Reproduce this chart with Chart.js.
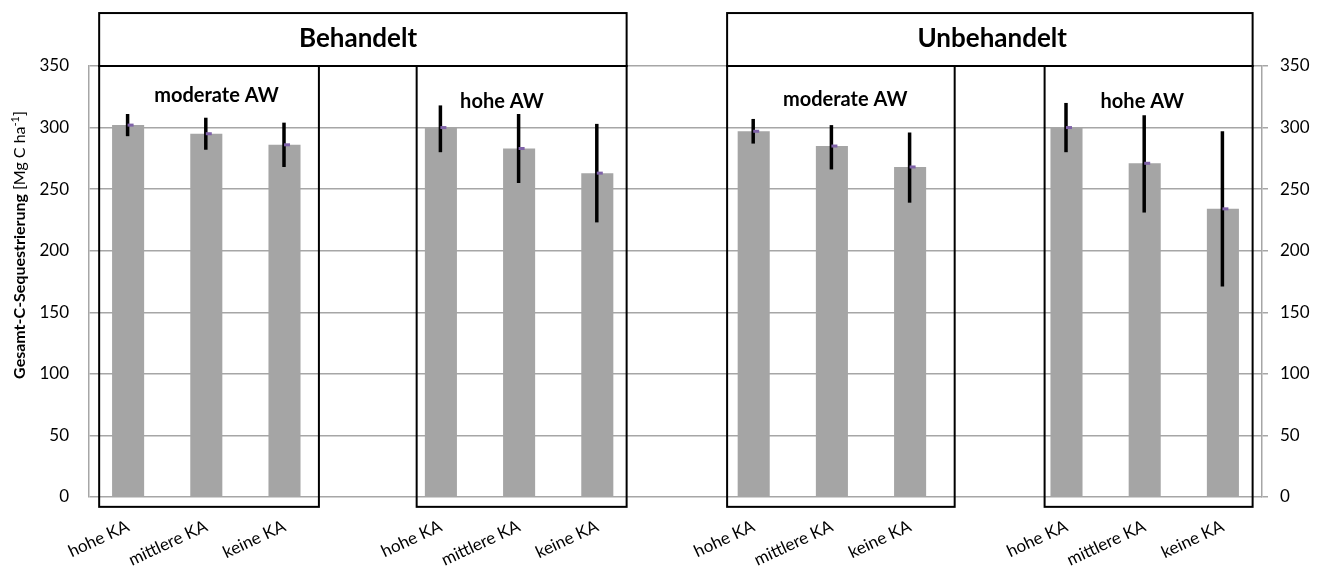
<!DOCTYPE html>
<html><head><meta charset="utf-8">
<script src="https://cdn.jsdelivr.net/npm/chart.js@4.4.0/dist/chart.umd.min.js"></script>
<style>html,body{margin:0;padding:0;background:#fff}#wrap{width:1321px;height:566px}</style>
</head><body><div id="wrap"><canvas id="c" width="1321" height="566"></canvas></div>
<script>
// ---- data ----
const categories = ['hohe KA','mittlere KA','keine KA','',
                    'hohe KA','mittlere KA','keine KA','',
                    'hohe KA','mittlere KA','keine KA','',
                    'hohe KA','mittlere KA','keine KA'];
const means = [302,295,286,null, 300,283,263,null, 297,285,268,null, 300,271,234];
const upper = [311,308,304,null, 318,311,303,null, 307,302,296,null, 320,310,297];
const lower = [293,282,268,null, 280,255,223,null, 287,266,239,null, 280,231,171];
const yTicks = [0,50,100,150,200,250,300,350];
const headerLabels = ['Behandelt','Unbehandelt'];
const groupLabels = ['moderate AW','hohe AW','moderate AW','hohe AW'];
const yTitleBold = 'Gesamt-C-Sequestrierung ';
const yTitleUnit = '[Mg C ha';
const yTitleSup = '-1';
const yTitleEnd = ']';

// ---- annotation layout (category-index / value units) ----
const headerSpans = [[-0.37,6.375],[7.66,14.38]];
const headerTextPos = [[2.94,372],[11.05,372]];
const headerTopValue = 393;
const groupSpans = [[-0.37,2.44],[3.69,6.375],[7.66,10.57],[11.72,14.38]];
const groupTextPos = [[1.13,326],[4.78,321],[9.17,323],[12.97,321]];
const groupBottomValue = -8;

const FONT = 'Lato, "Open Sans", sans-serif';

const overlay = {
  id:'overlay',
  afterDatasetsDraw(chart){
    const ctx = chart.ctx, x = chart.scales.x, y = chart.scales.y;
    ctx.save();
    for(let i=0;i<means.length;i++){
      if(means[i]==null) continue;
      const px = x.getPixelForValue(i);
      ctx.strokeStyle = '#000'; ctx.lineWidth = 3.5;
      ctx.beginPath();
      ctx.moveTo(px-0.5, y.getPixelForValue(upper[i]));
      ctx.lineTo(px-0.5, y.getPixelForValue(lower[i]));
      ctx.stroke();
      ctx.fillStyle = '#7f62a8';
      ctx.fillRect(px-0.5, y.getPixelForValue(means[i])-1.5, 6, 3);
    }
    ctx.restore();
  },
  afterDraw(chart){
    const ctx = chart.ctx, x = chart.scales.x, y = chart.scales.y;
    ctx.save();
    ctx.strokeStyle = '#000'; ctx.lineWidth = 2;
    const top = y.getPixelForValue(350);
    headerSpans.forEach(s=>{
      const l = x.getPixelForValue(s[0]), r = x.getPixelForValue(s[1]);
      const t = y.getPixelForValue(headerTopValue);
      ctx.strokeRect(l, t, r-l, top-t);
    });
    groupSpans.forEach(s=>{
      const l = x.getPixelForValue(s[0]), r = x.getPixelForValue(s[1]);
      const b = y.getPixelForValue(groupBottomValue);
      ctx.strokeRect(l, top, r-l, b-top);
    });
    ctx.fillStyle = '#000'; ctx.textAlign='center'; ctx.textBaseline='middle';
    ctx.font = 'bold 26px '+FONT;
    headerLabels.forEach((t,i)=>{
      ctx.fillText(t, x.getPixelForValue(headerTextPos[i][0]), y.getPixelForValue(headerTextPos[i][1]));
    });
    ctx.font = 'bold 20px '+FONT;
    groupLabels.forEach((t,i)=>{
      ctx.fillText(t, x.getPixelForValue(groupTextPos[i][0]), y.getPixelForValue(groupTextPos[i][1]));
    });
    // y axis title (mixed weights)
    ctx.translate(20, 245);
    ctx.rotate(-Math.PI/2);
    ctx.textBaseline = 'middle'; ctx.textAlign='left';
    const fB = 'bold 16px '+FONT, fR = '16px '+FONT, fS = '11px '+FONT;
    ctx.font=fB; const w1 = ctx.measureText(yTitleBold).width;
    ctx.font=fR; const w2 = ctx.measureText(yTitleUnit).width;
    ctx.font=fS; const w3 = ctx.measureText(yTitleSup).width;
    ctx.font=fR; const w4 = ctx.measureText(yTitleEnd).width;
    let cx = -(w1+w2+w3+w4)/2;
    ctx.font=fB; ctx.fillText(yTitleBold, cx, 0); cx+=w1;
    ctx.font=fR; ctx.fillText(yTitleUnit, cx, 0); cx+=w2;
    ctx.font=fS; ctx.fillText(yTitleSup, cx, -5); cx+=w3;
    ctx.font=fR; ctx.fillText(yTitleEnd, cx, 0);
    ctx.restore();
  }
};

new Chart(document.getElementById('c'), {
  type:'bar',
  data:{ labels:categories, datasets:[{ data:means, backgroundColor:'#a5a5a5', borderWidth:0,
        barPercentage:0.41, categoryPercentage:1.0 }]},
  options:{
    responsive:false, animation:false,
    layout:{ padding:{ top:66, left:0, right:0, bottom:0 } },
    plugins:{ legend:{display:false}, tooltip:{enabled:false}, title:{display:false} },
    scales:{
      x:{ type:'category', offset:true,
          grid:{ display:false, drawTicks:false },
          border:{ display:false },
          ticks:{ color:'#000', font:{ family:FONT, size:17 }, minRotation:25, maxRotation:25, autoSkip:false, padding:19 },
          afterFit(s){ s.height = 69; } },
      y:{ position:'left', min:0, max:350,
          afterBuildTicks(s){ s.ticks = yTicks.map(v=>({value:v})); },
          grid:{ color:'#a6a6a6', lineWidth:1.5, drawTicks:false },
          border:{ display:true, color:'#a6a6a6', width:1.5 },
          ticks:{ color:'#000', font:{ family:FONT, size:17 }, padding:20 },
          afterFit(s){ s.width = 89; } },
      y2:{ position:'right', min:0, max:350,
          afterBuildTicks(s){ s.ticks = yTicks.map(v=>({value:v})); },
          grid:{ drawOnChartArea:false, drawTicks:true, tickLength:6, color:'#a6a6a6', lineWidth:1.5 },
          border:{ display:true, color:'#a6a6a6', width:1.5 },
          ticks:{ color:'#000', font:{ family:FONT, size:17 }, padding:12 },
          afterFit(s){ s.width = 59; } }
    }
  },
  plugins:[overlay]
});
</script></body></html>
